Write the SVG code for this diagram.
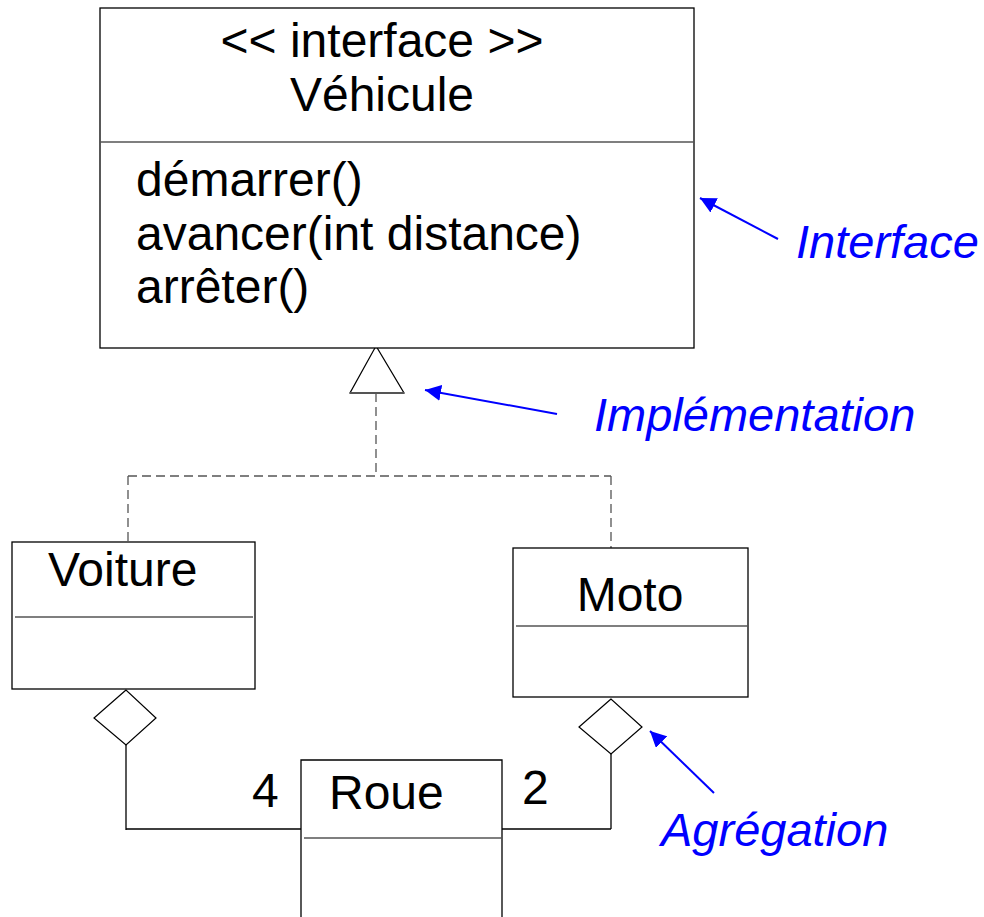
<svg xmlns="http://www.w3.org/2000/svg" width="984" height="917" viewBox="0 0 984 917">
<defs>
<style>
.box{fill:#fff;stroke:#000;stroke-width:1.3}
.div{stroke:#555;stroke-width:1.3}
.t{font-family:"Liberation Sans",Arial,sans-serif;font-size:48px;fill:#000}
.lbl{font-family:"Liberation Sans",Arial,sans-serif;font-size:47px;font-style:italic;fill:#0000ff}
.dash{fill:none;stroke:#555;stroke-width:1.3;stroke-dasharray:9 5}
.solid{fill:none;stroke:#000;stroke-width:1.3}
.blue{fill:none;stroke:#0000ff;stroke-width:2}
</style>
<marker id="ah" viewBox="0 0 10 10" refX="10" refY="5" markerWidth="16" markerHeight="16" markerUnits="userSpaceOnUse" orient="auto">
<path d="M0,0 L10,5 L0,10 z" fill="#0000ff"/>
</marker>
</defs>
<rect width="984" height="917" fill="#fff"/>
<g id="connectors">
<path class="dash" d="M376,393 V476 M128,476 H611 M128,476 V542 M611,476 V548"/>
<polygon points="376,346 350,393 404,393" fill="#fff" stroke="#000" stroke-width="1.2"/>
<line x1="350" y1="393" x2="404" y2="393" stroke="#555" stroke-width="2"/>
<polygon points="126,690 94,718 126,745 156,718" fill="#fff" stroke="#000" stroke-width="1.2"/>
<path class="solid" d="M126,745 V830 M126,829 H301"/>
<polygon points="611,699 579,727 611,754 642,727" fill="#fff" stroke="#000" stroke-width="1.2"/>
<path class="solid" d="M611,754 V829 M502,829 H611"/>
<line class="blue" x1="778" y1="239" x2="700" y2="198" marker-end="url(#ah)"/>
<line class="blue" x1="557" y1="414" x2="425" y2="390" marker-end="url(#ah)"/>
<line class="blue" x1="714" y1="793" x2="650" y2="731" marker-end="url(#ah)"/>
</g>
<g id="vehicule">
<rect class="box" x="100" y="8" width="594" height="340"/>
<line class="div" x1="100" y1="142" x2="694" y2="142"/>
<text class="t" x="382" y="57" text-anchor="middle">&lt;&lt; interface &gt;&gt;</text>
<text class="t" x="382" y="111" text-anchor="middle">Véhicule</text>
<text class="t" x="136" y="196">démarrer()</text>
<text class="t" x="136" y="250">avancer(int distance)</text>
<text class="t" x="136" y="303">arrêter()</text>
</g>
<g id="voiture">
<rect class="box" x="12" y="542" width="243" height="147" stroke="#333"/>
<line class="div" x1="15" y1="617" x2="253" y2="617"/>
<text class="t" x="48" y="586">Voiture</text>
</g>
<g id="moto">
<rect class="box" x="513" y="548" width="235" height="149" stroke="#333"/>
<line class="div" x1="516" y1="626" x2="748" y2="626"/>
<text class="t" x="630" y="611" text-anchor="middle">Moto</text>
</g>
<g id="roue">
<path class="solid" d="M301,930 V760 H502 V930"/>
<line class="div" x1="304" y1="838" x2="502" y2="838"/>
<text class="t" x="329" y="809">Roue</text>
</g>
<g id="labels">
<text class="t" x="252" y="807">4</text>
<text class="t" x="522" y="804">2</text>
<text class="lbl" x="796" y="258">Interface</text>
<text class="lbl" x="594" y="431">Implémentation</text>
<text class="lbl" x="661" y="846">Agrégation</text>
</g>
</svg>
